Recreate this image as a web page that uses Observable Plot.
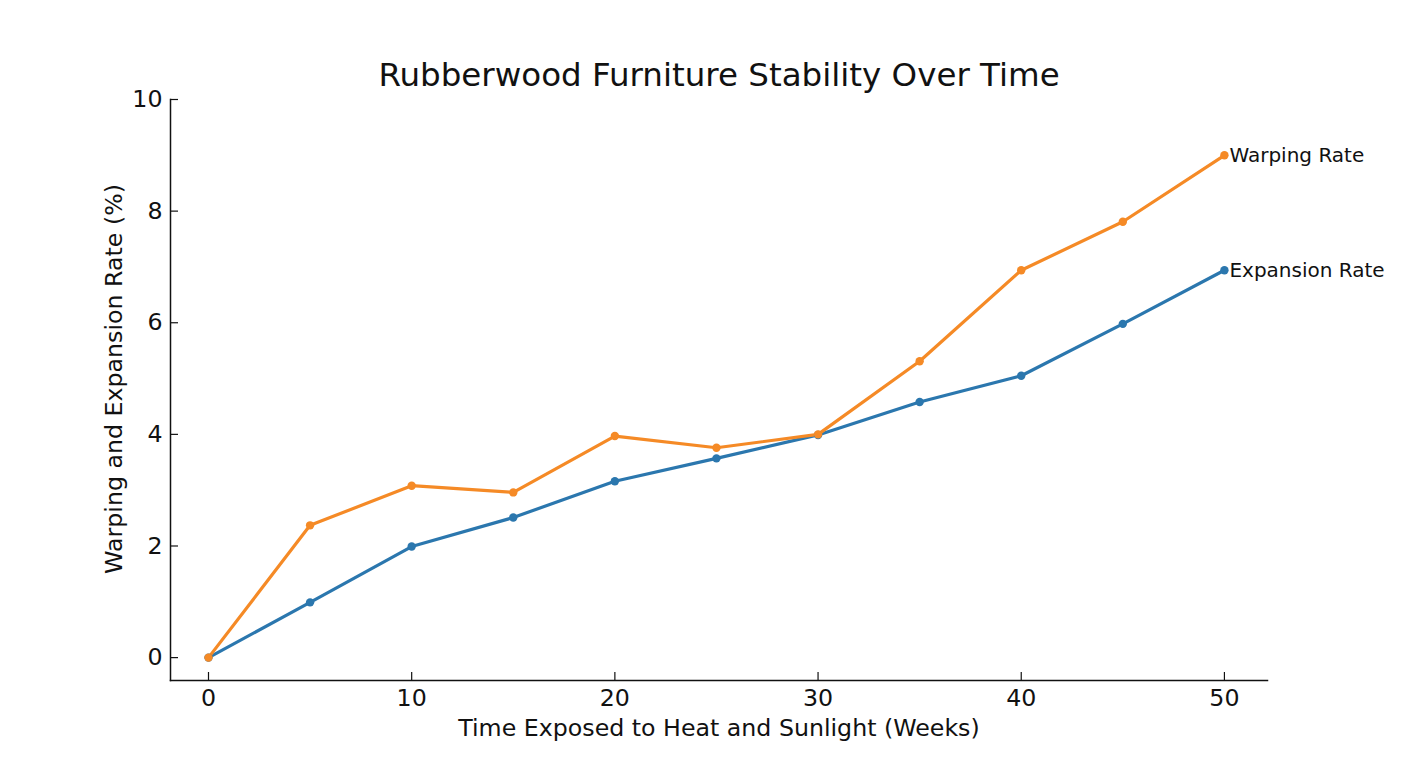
<!DOCTYPE html>
<html><head><meta charset="utf-8">
<script src="https://cdn.jsdelivr.net/npm/d3@7"></script>
<script src="https://cdn.jsdelivr.net/npm/@observablehq/plot@0.6"></script>
<style>body{margin:0;background:#fff} svg{display:block}</style>
</head><body><div id="chart"></div>
<script>
const weeks = [0, 5, 10, 15, 20, 25, 30, 35, 40, 45, 50];
const expansionRate = [0, 0.99, 1.99, 2.51, 3.16, 3.57, 3.99, 4.58, 5.05, 5.98, 6.94];
const warpingRate = [0, 2.37, 3.08, 2.96, 3.97, 3.76, 4.0, 5.31, 6.94, 7.81, 9.0];
const seriesNames = ["Expansion Rate", "Warping Rate"];
const seriesColors = ["#2b77ae", "#f58a26"];
const xTicks = [0, 10, 20, 30, 40, 50];
const yTicks = [0, 2, 4, 6, 8, 10];
const titleText = "Rubberwood Furniture Stability Over Time";
const xLabel = "Time Exposed to Heat and Sunlight (Weeks)";
const yLabel = "Warping and Expansion Rate (%)";

const rows = [];
seriesNames.forEach((name, si) => {
  const vals = si === 0 ? expansionRate : warpingRate;
  weeks.forEach((w, i) => rows.push({series: name, week: w, value: vals[i]}));
});
const ends = seriesNames.map((name, si) => {
  const vals = si === 0 ? expansionRate : warpingRate;
  return {series: name, week: weeks[weeks.length - 1], value: vals[vals.length - 1]};
});

const font = "DejaVu Sans";
const chart = Plot.plot({
  width: 1408,
  height: 768,
  marginLeft: 170,
  marginRight: 141,
  marginTop: 99,
  marginBottom: 88,
  style: {fontFamily: font, background: "#fff", color: "#111"},
  x: {domain: [-1.87, 52.12]},
  y: {domain: [-0.41, 10]},
  color: {domain: seriesNames, range: seriesColors},
  marks: [
    Plot.frame({anchor: "left", stroke: "#111", strokeWidth: 1.5}),
    Plot.frame({anchor: "bottom", stroke: "#111", strokeWidth: 1.5}),
    Plot.axisX(xTicks, {tickSize: -8, tickPadding: 17, fontSize: 23.7, tickFormat: d3.format("d"), label: null, stroke: "#111", strokeWidth: 1.2}),
    Plot.axisY(yTicks, {tickSize: -8, tickPadding: 16, fontSize: 23.7, tickFormat: d3.format("d"), label: null, stroke: "#111", strokeWidth: 1.2}),
    Plot.line(rows, {x: "week", y: "value", z: "series", stroke: "series", strokeWidth: 3.2}),
    Plot.dot(rows, {x: "week", y: "value", fill: "series", r: 4.2}),
    Plot.text(ends, {x: "week", y: "value", text: "series", textAnchor: "start", dx: 5, fontSize: 20, fill: "#111"}),
    Plot.text([titleText], {frameAnchor: "top", lineAnchor: "middle", dy: -24, fontSize: 32.5, fill: "#111"}),
    Plot.text([xLabel], {frameAnchor: "bottom", lineAnchor: "middle", dy: 48, fontSize: 23.7, fill: "#111"}),
    Plot.text([yLabel], {frameAnchor: "left", textAnchor: "middle", lineAnchor: "middle", dx: -56, dy: -11, rotate: -90, fontSize: 23.7, fill: "#111"})
  ]
});
document.getElementById("chart").appendChild(chart);
</script>
</body></html>
